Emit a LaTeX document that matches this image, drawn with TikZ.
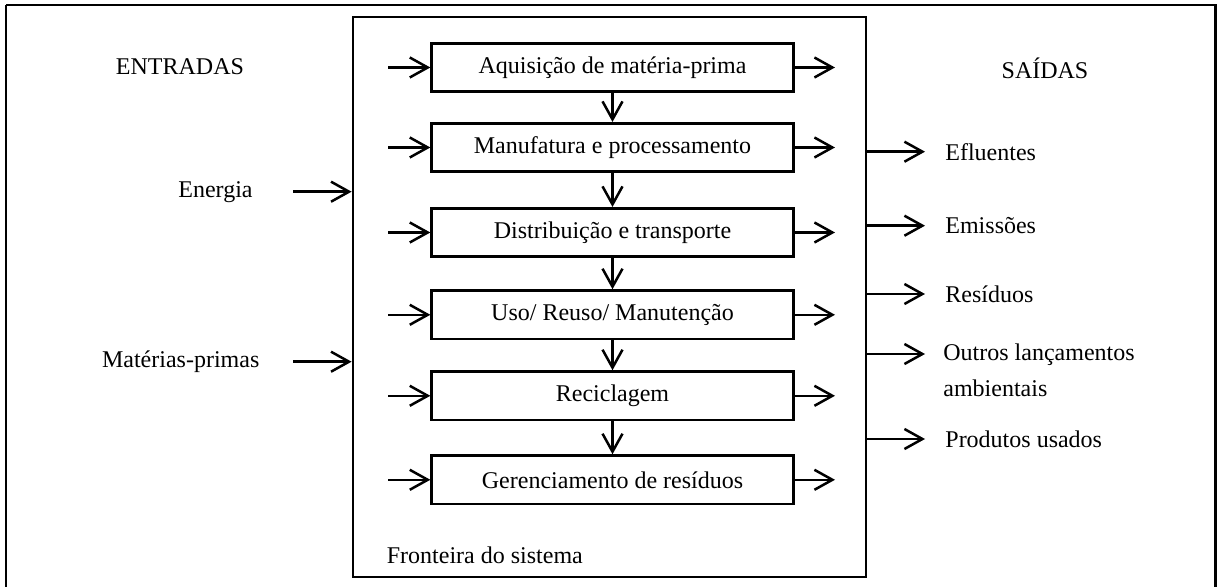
\documentclass[tikz,border=0pt]{standalone}
\usepackage{fontspec}
\setmainfont{Liberation Serif}
\usetikzlibrary{arrows.meta}
\tikzset{
  arr/.style={line width=1.25pt,-{Straight Barb[length=9pt,width=10pt,line width=1.25pt]}},
  procbox/.style={draw,line width=1.35pt,minimum width=180.8pt,minimum height=24.2pt,inner sep=0pt,font=\fontsize{12pt}{14pt}\selectfont},
  lbl/.style={inner sep=0pt,font=\fontsize{12pt}{18pt}\selectfont},
}
\begin{document}
\begin{tikzpicture}[x=0.5pt,y=-0.5pt]
\useasboundingbox (0,0) rectangle (1217,587);
% outer frame
\draw[line width=1.4pt] (6,5) -- (1215.5,5) -- (1215.5,595) (6,5) -- (6,595);
% system boundary
\node[draw,line width=1.4pt,minimum width=256.5pt,minimum height=280pt,inner sep=0pt] (sys) at (609.5,297) {};
% process boxes
\node[procbox] (b1) at (612.5,67.5) {Aquisição de matéria-prima};
\node[procbox] (b2) at (612.5,147.5) {Manufatura e processamento};
\node[procbox] (b3) at (612.5,232.5) {Distribuição e transporte};
\node[procbox] (b4) at (612.5,314.8) {Uso/ Reuso/ Manutenção};
\node[procbox] (b5) at (612.5,395.8) {Reciclagem};
\node[procbox] (b6) at (612.5,479.8) {Gerenciamento de resíduos};
% down arrows
\foreach \a/\b in {b1/b2,b2/b3,b3/b4,b4/b5,b5/b6}
  \draw[arr] (\a.south) -- (\b.north);
% side arrows of boxes
\foreach \b/\y in {b1/67.5,b2/147.5,b3/232.5,b4/314.8,b5/395.8,b6/479.8}{
  \coordinate (in-\b) at (388,\y);
  \coordinate (out-\b) at (835,\y);
  \draw[arr] (in-\b) -- (\b.west);
  \draw[arr] (\b.east) -- (out-\b);
}
% headings
\node[lbl] (ent) at (180,67) {ENTRADAS};
\node[lbl] (sai) at (1045,68) {SAÍDAS};
% inputs
\node[lbl,anchor=east] (en) at (253,191.7) {Energia};
\node[lbl] (mp) at (180.7,362) {Matérias-primas};
\coordinate (en-s) at (293,191.7);
\coordinate (mp-s) at (293,361.7);
\draw[arr] (en-s) -- (sys.west |- en-s);
\draw[arr] (mp-s) -- (sys.west |- mp-s);
% outputs
\foreach \n/\y/\t in {ef/151.7/Efluentes,em/225.7/Emissões,re/294/Resíduos,pu/439/Produtos usados}{
  \coordinate (\n-e) at (925,\y);
  \draw[arr] (sys.east |- \n-e) -- (\n-e);
  \node[lbl,anchor=west] (\n) at (945,\y) {\t};
}
\coordinate (ol-e) at (925,354);
\draw[arr] (sys.east |- ol-e) -- (ol-e);
\node[lbl,anchor=north west,align=left] (ol) at (943,343) {Outros lançamentos\\ambientais};
% boundary label
\node[lbl,anchor=west] (fr) at (386.5,555) {Fronteira do sistema};
\end{tikzpicture}
\end{document}
